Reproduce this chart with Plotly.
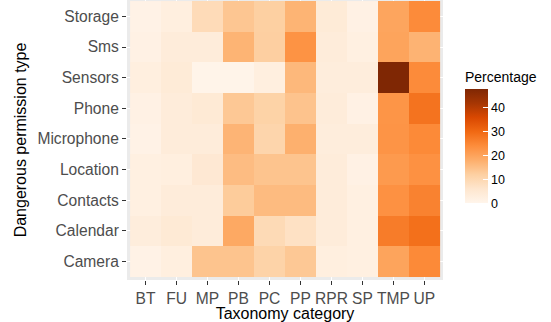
import plotly.graph_objects as go

categories = ["BT", "FU", "MP", "PB", "PC", "PP", "RPR", "SP", "TMP", "UP"]
permissions = ["Camera", "Calendar", "Contacts", "Location", "Microphone",
               "Phone", "Sensors", "Sms", "Storage"]

camera = [1.0, 2.5, 14.0, 14.0, 11.0, 13.3, 2.5, 2.0, 19.7, 24.3]
calendar = [3.0, 4.5, 3.5, 18.8, 9.2, 7.3, 3.5, 2.0, 26.5, 28.5]
contacts = [2.0, 3.5, 3.5, 12.6, 15.5, 15.5, 3.5, 2.0, 23.0, 25.5]
location = [2.0, 2.5, 5.0, 15.3, 14.0, 14.0, 3.5, 1.5, 21.5, 23.0]
microphone = [1.0, 3.5, 3.5, 16.7, 10.5, 17.5, 3.0, 3.0, 22.5, 24.3]
phone = [1.5, 3.5, 4.5, 13.3, 11.2, 14.1, 3.5, 1.5, 22.3, 28.0]
sensors = [2.5, 4.0, 0.4, 0.4, 2.5, 16.1, 3.0, 3.0, 47.5, 24.0]
sms = [1.5, 3.5, 3.5, 16.8, 12.0, 22.7, 3.5, 2.0, 19.7, 17.0]
storage = [1.0, 2.5, 8.9, 13.6, 11.9, 16.8, 4.0, 1.5, 19.4, 24.0]

z = [camera, calendar, contacts, location, microphone, phone, sensors, sms, storage]

cbar_ticks = [0, 10, 20, 30, 40]

oranges = ["#FFF5EB", "#FEE6CE", "#FDD0A2", "#FDAE6B", "#FD8D3C",
           "#F16913", "#D94801", "#A63603", "#7F2704"]
colorscale = [[i / (len(oranges) - 1), c] for i, c in enumerate(oranges)]

fig = go.Figure(go.Heatmap(
    z=z, x=categories, y=permissions,
    colorscale=colorscale, zmin=0, zmax=47.5,
    colorbar=dict(
        title=dict(text="Percentage", side="top",
                   font=dict(family="Liberation Sans, Arial", size=14, color="#000000")),
        x=1.0696, xanchor="left", xpad=0,
        y=0.515, yanchor="middle", ypad=0,
        len=135, lenmode="pixels", thickness=23, thicknessmode="pixels",
        outlinewidth=0,
        tickvals=cbar_ticks, ticks="inside", ticklen=5, tickcolor="white",
        tickfont=dict(family="Liberation Sans, Arial", size=12.5, color="#000000"),
    ),
    hoverongaps=False,
))

fig.update_layout(
    width=551, height=322,
    margin=dict(l=127, r=108, t=0, b=42, autoexpand=False),
    paper_bgcolor="white", plot_bgcolor="#EBEBEB",
    font=dict(family="Liberation Sans, Arial"),
    xaxis=dict(
        range=[-0.6, 9.6], showgrid=True, gridcolor="white", gridwidth=1,
        ticks="outside", ticklen=4, tickcolor="#333333", tickwidth=1,
        tickfont=dict(size=15.6, color="#4D4D4D"), zeroline=False, showline=False,
        title=dict(text="Taxonomy category", font=dict(size=16, color="#000000"), standoff=0),
        fixedrange=True,
    ),
    yaxis=dict(
        range=[-0.6, 8.533], showgrid=True, gridcolor="white", gridwidth=1,
        ticks="outside", ticklen=4, tickcolor="#333333", tickwidth=1,
        tickfont=dict(size=15.6, color="#4D4D4D"), zeroline=False, showline=False,
        title=dict(text="Dangerous permission type", font=dict(size=16, color="#000000"), standoff=6),
        fixedrange=True,
    ),
)

fig.write_html("out.html", config={"displayModeBar": False},
               post_script="document.body.style.margin='0';")
